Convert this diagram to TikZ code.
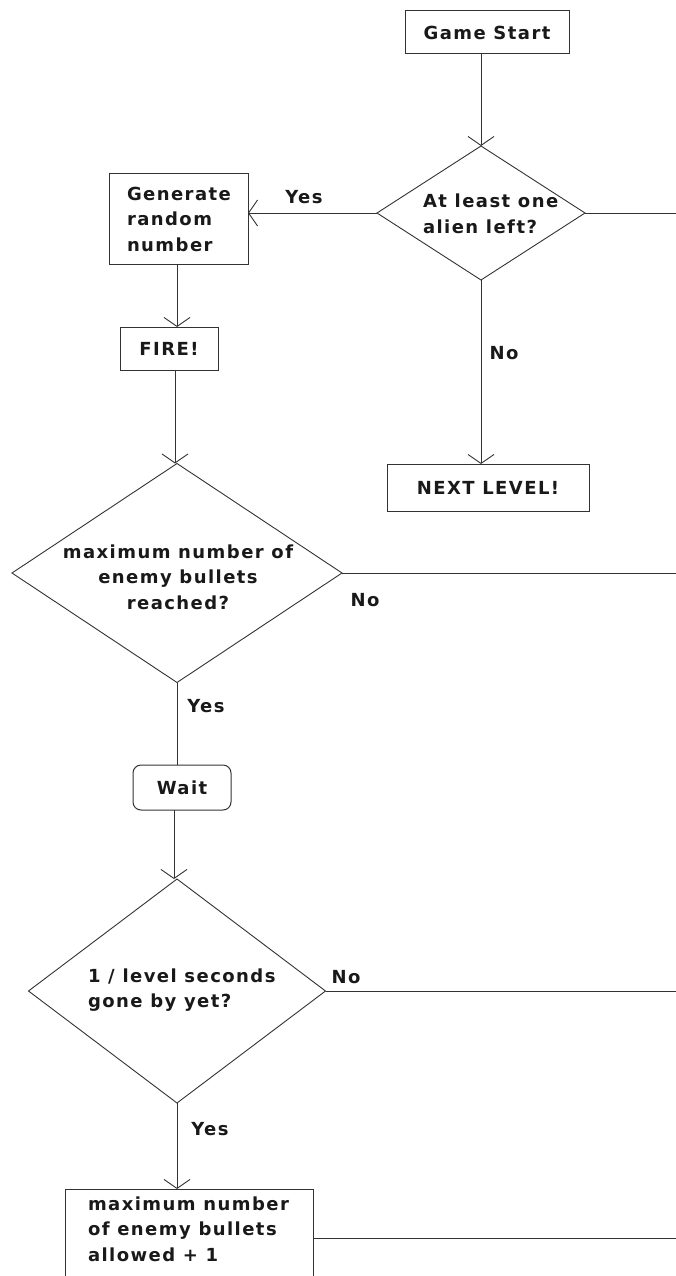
\documentclass[tikz,border=0pt]{standalone}
\usepackage{fontspec}
\setmainfont{DejaVu Sans Bold}[LetterSpace=8]
\usetikzlibrary{shapes.geometric,arrows.meta}
\definecolor{lc}{HTML}{333333}
\begin{document}
\begin{tikzpicture}[x=1pt,y=-1pt,
  every node/.style={font=\fontsize{18}{25.5}\selectfont, inner sep=0pt, outer sep=0pt, text=black!90},
  box/.style={draw=lc, line width=1pt, rectangle},
  dia/.style={draw=lc, line width=0.9pt, diamond},
  link/.style={draw=lc, line width=1pt},
  arr/.style={link, -{Straight Barb[length=9pt,width=26pt,line width=0.9pt]}},
  lbl/.style={font=\fontsize{18}{22}\selectfont}
]
\clip (0,0) rectangle (676,1276);
\fill[white] (0,0) rectangle (676,1276);

% nodes
\node[box, minimum width=164pt, minimum height=43pt] (start) at (487,32.5) {Game Start};
\node[dia, minimum width=208pt, minimum height=134pt] (d1) at (481,213) {};
\node[align=left, anchor=west] (d1t) at (423,214) {At least one\\alien left?};

\node[box, minimum height=90pt, inner xsep=18pt, text width=103pt, align=left] (gen) at (178.5,219) {Generate\\random\\number};
\node[box, minimum width=98pt, minimum height=43pt] (fire) at (169,348.5) {FIRE!};
\node[box, minimum width=202pt, minimum height=47pt] (next) at (488,487.5) {NEXT LEVEL!};

\node[dia, minimum width=330pt, minimum height=219pt] (d2) at (177,573) {};
\node[align=center] (d2t) at (178,577) {maximum number of\\enemy bullets\\reached?};

\node[box, rounded corners=8pt, minimum width=98pt, minimum height=45pt] (wait) at (182,787.5) {Wait};

\node[dia, minimum width=297pt, minimum height=224pt] (d3) at (177,991) {};
\node[align=left, anchor=west] (d3t) at (88,990) {1 / level seconds\\gone by yet?};

\node[box, anchor=north, minimum width=248pt, minimum height=130pt] (bot) at (189,1189) {};
\node[align=left, anchor=west] (bott) at (88,1229) {maximum number\\of enemy bullets\\allowed + 1};

% free ends
\coordinate (e1) at (676,213);
\coordinate (e2) at (676,573);
\coordinate (e3) at (676,991);
\coordinate (e4) at (676,1238);

% connectors
\draw[arr] (d1.north |- start.south) -- (d1.north);
\draw[link] (d1.east) -- (e1);
\draw[arr] (d1.west) -- (gen.east |- d1.west);
\draw[arr] (d1.south) -- (next.north -| d1.south);
\draw[arr] (gen.south -| 177,0) -- (fire.north -| 177,0);
\draw[arr] (fire.south -| 175,0) -- (d2.north -| 175,0);
\draw[link] (d2.east) -- (e2);
\draw[link] (d2.south) -- (wait.north -| d2.south);
\draw[arr] (wait.south -| 174,0) -- (d3.north -| 174,0);
\draw[link] (d3.east) -- (e3);
\draw[arr] (d3.south) -- (bot.north -| d3.south);
\draw[link] (bot.east |- e4) -- (e4);

% labels
\node[lbl] (y1) at (304,197) {Yes};
\node[lbl] (n1) at (504,353) {No};
\node[lbl] (n2) at (365,600) {No};
\node[lbl] (y2) at (206,706) {Yes};
\node[lbl] (n3) at (346,977) {No};
\node[lbl] (y3) at (210,1129) {Yes};
\end{tikzpicture}
\end{document}
